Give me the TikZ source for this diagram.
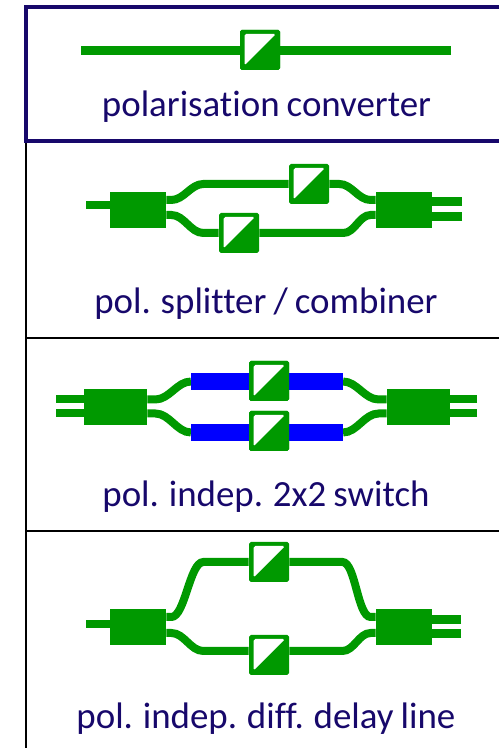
\documentclass[tikz,border=0pt]{standalone}
\usepackage{fontspec}
\setmainfont[Ligatures=NoCommon,WordSpace=0.85]{Carlito}
\usetikzlibrary{positioning}
\definecolor{colorGreen}{HTML}{009900}
\definecolor{colorBlue}{HTML}{0000FF}
\definecolor{colorNavy}{HTML}{17086B}
\def\colorGreen{colorGreen}
\def\colorBlue{colorBlue}
\def\colorNavy{colorNavy}
\tikzset{
	wave/.style={line width=0.16cm, color=\colorGreen},
	slab/.style={line width=0.34cm, color=\colorBlue},
	coupler/.style={fill=\colorGreen, draw=none, inner sep=0, minimum width=1.12cm, minimum height=0.72cm},
	conv/.style={fill=\colorGreen, draw=none, inner sep=0, minimum size=0.8cm, rounded corners=1pt,
		path picture={\fill[white] (-0.31,0.32) -- (0.32,0.32) -- (-0.31,-0.31) -- cycle;}},
	caption/.style={anchor=base, text=\colorNavy, inner sep=0, font=\fontsize{21pt}{24pt}\selectfont},
	sbend/.style={out=0, in=180, looseness=0.9},
	steep/.style={out=0, in=180, looseness=0.55},
}
\begin{document}
\begin{tikzpicture}
    \useasboundingbox (0,0) rectangle (9.98,14.96);
    \fill[white] (0,0) rectangle (9.98,14.96);

    % Cadres
    \draw[line width=0.04cm, black] (0.52,12.2) -- (0.52,0);
    \draw[line width=0.03cm, black] (0.52,8.2) -- (9.98,8.2);
    \draw[line width=0.03cm, black] (0.52,4.34) -- (9.98,4.34);
    \draw[line width=0.07cm, color=\colorNavy] (9.98,14.82) -- (0.52,14.82) -- (0.52,12.14) -- (9.98,12.14);

    % Polarisation converter
    \node[conv] (convA) at (5.2,13.96) {};
    \coordinate (inA) at (1.62,13.94);
    \coordinate (outA) at (9.02,13.94);
    \draw[wave, line width=0.18cm] (inA) -- (inA -| convA);
    \draw[wave, line width=0.18cm] (outA) -- (outA -| convA);
    \node[conv] at (convA) {};
    \node[caption] (capA) at (5.33,12.62) {polarisation converter};

    % Splitter / combiner
    \node[coupler] (leftB) at (2.76,10.76) {};
    \node[coupler] (rightB) at (8.08,10.76) {};
    \node[conv] (convBa) at (6.18,11.28) {};
    \node[conv] (convBb) at (4.78,10.3) {};
    \coordinate (inB) at (1.72,10.85);
    \coordinate (outBa) at (9.24,10.93);
    \coordinate (outBb) at (9.24,10.63);
    \draw[wave] (inB) -- (inB -| leftB);
    \draw[wave] ([yshift=0.2cm]leftB.east) -- ++(0.1,0) to[sbend] ++(0.64,0.32) -- (convBa.west);
    \draw[wave] ([yshift=-0.1cm]leftB.east) -- ++(0.1,0) to[sbend] ++(0.64,-0.36) -- (convBb.west);
    \draw[wave] (convBa.east) -- ++(0.2,0) to[sbend] ([yshift=0.2cm,xshift=-0.1cm]rightB.west) -- ([yshift=0.2cm]rightB.west);
    \draw[wave] (convBb.east) -- ++(1.68,0) to[sbend] ([yshift=-0.1cm,xshift=-0.1cm]rightB.west) -- ([yshift=-0.1cm]rightB.west);
    \draw[wave, line width=0.18cm] (outBa) -- (outBa -| rightB);
    \draw[wave, line width=0.18cm] (outBb) -- (outBb -| rightB);
    \node[caption] (capB) at (5.32,8.68) {pol. splitter / combiner};

    % Switch
    \node[coupler, minimum width=1.26cm] (leftC) at (2.31,6.82) {};
    \node[coupler, minimum width=1.26cm] (rightC) at (8.37,6.82) {};
    \node[conv] (convCa) at (5.38,7.34) {};
    \node[conv] (convCb) at (5.38,6.34) {};
    \coordinate (slabCaIn) at (3.82,7.33);
    \coordinate (slabCaOut) at (6.86,7.33);
    \coordinate (slabCbIn) at (3.82,6.31);
    \coordinate (slabCbOut) at (6.86,6.31);
    \coordinate (inCa) at (1.12,6.97);
    \coordinate (inCb) at (1.12,6.69);
    \coordinate (outCa) at (9.54,6.97);
    \coordinate (outCb) at (9.54,6.69);
    \draw[wave] (inCa) -- (inCa -| leftC);
    \draw[wave] (inCb) -- (inCb -| leftC);
    \draw[wave] (outCa) -- (outCa -| rightC);
    \draw[wave] (outCb) -- (outCb -| rightC);
    \draw[wave] (leftC.east |- inCa) -- ++(0.16,0) to[sbend] (slabCaIn);
    \draw[wave] (leftC.east |- inCb) -- ++(0.16,0) to[sbend] (slabCbIn);
    \draw[wave] (slabCaOut) to[sbend] ([xshift=-0.16cm]rightC.west |- outCa) -- (rightC.west |- outCa);
    \draw[wave] (slabCbOut) to[sbend] ([xshift=-0.16cm]rightC.west |- outCb) -- (rightC.west |- outCb);
    \draw[slab] (slabCaIn) -- (slabCaOut);
    \draw[slab] (slabCbIn) -- (slabCbOut);
    \node[conv] at (convCa) {};
    \node[conv] at (convCb) {};
    \node[caption] (capC) at (5.32,4.82) {pol. indep. 2x2 switch};

    % Delay line
    \node[coupler] (leftD) at (2.76,2.42) {};
    \node[coupler] (rightD) at (8.08,2.42) {};
    \node[conv] (convDa) at (5.38,3.72) {};
    \node[conv] (convDb) at (5.38,1.86) {};
    \coordinate (inD) at (1.72,2.47);
    \coordinate (outDa) at (9.22,2.57);
    \coordinate (outDb) at (9.22,2.29);
    \draw[wave] (inD) -- (inD -| leftD);
    \draw[wave] ([yshift=0.2cm]leftD.east) -- ++(0.1,0) to[steep] ++(0.64,1.1) -- (convDa.west);
    \draw[wave] ([yshift=-0.12cm]leftD.east) -- ++(0.1,0) to[sbend] ++(0.64,-0.36) -- ([yshift=0.08cm]convDb.west);
    \draw[wave] (convDa.east) -- ++(1.06,0) to[steep] ([yshift=0.2cm,xshift=-0.1cm]rightD.west) -- ([yshift=0.2cm]rightD.west);
    \draw[wave] ([yshift=0.08cm]convDb.east) -- ++(1.06,0) to[sbend] ([yshift=-0.12cm,xshift=-0.1cm]rightD.west) -- ([yshift=-0.12cm]rightD.west);
    \draw[wave, line width=0.18cm] (outDa) -- (outDa -| rightD);
    \draw[wave, line width=0.18cm] (outDb) -- (outDb -| rightD);
    \node[caption] (capD) at (5.32,0.38) {pol. indep. diff. delay line};
\end{tikzpicture}
\end{document}
